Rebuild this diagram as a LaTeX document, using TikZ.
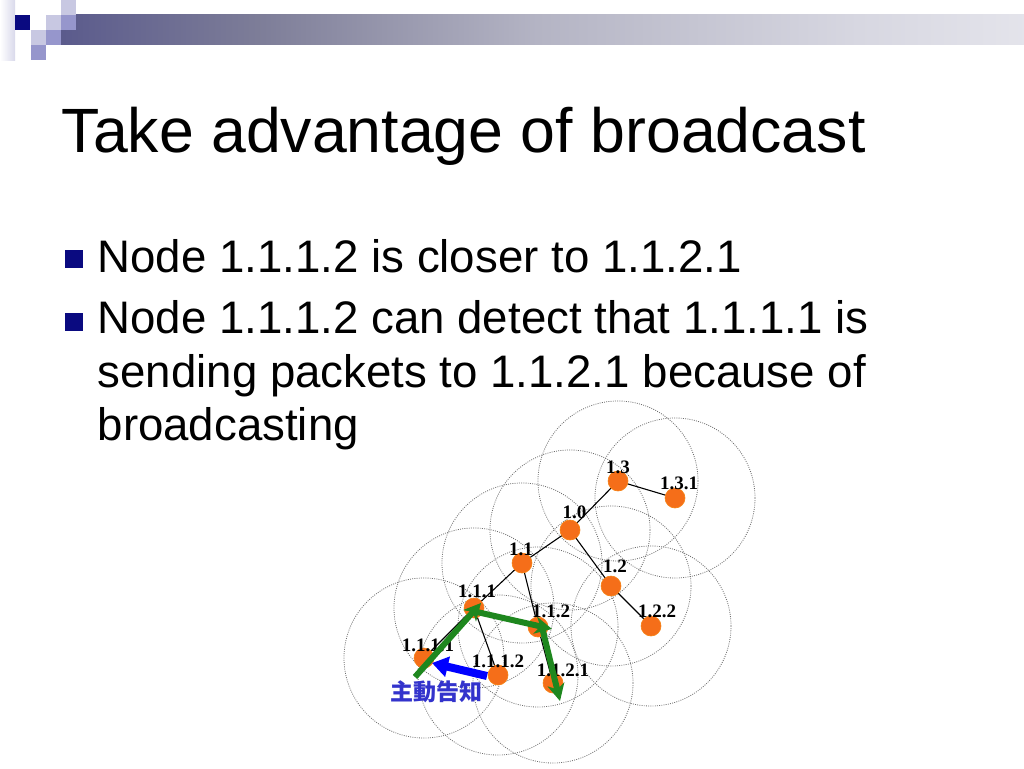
\documentclass[tikz,border=0pt]{standalone}
\usepackage{fontspec}
\setmainfont{Liberation Sans}
\newfontfamily\labfont{Liberation Serif}
\newfontfamily\cjk{Noto Sans CJK TC}
\usetikzlibrary{arrows.meta}
\definecolor{navy}{RGB}{10,10,128}
\definecolor{lavlight}{RGB}{200,200,226}
\definecolor{lavmid}{RGB}{150,150,204}
\definecolor{dotorange}{RGB}{245,110,25}
\definecolor{arrgreen}{RGB}{30,135,30}
\definecolor{arrblue}{RGB}{0,0,255}
\definecolor{txtblue}{RGB}{51,51,204}
\definecolor{rangegray}{RGB}{110,110,110}
\definecolor{bs0}{RGB}{25,25,120}
\definecolor{bs1}{RGB}{42,42,122}
\definecolor{bs2}{RGB}{90,90,140}
\definecolor{bs3}{RGB}{125,125,152}
\definecolor{bs4}{RGB}{180,180,196}
\definecolor{bs5}{RGB}{215,215,225}
\definecolor{bs6}{RGB}{238,238,243}
\definecolor{bs7}{RGB}{252,252,253}
\pgfdeclarehorizontalshading{barshade}{100bp}{%
  color(0bp)=(bs0); color(9.2bp)=(bs1);
  color(24.8bp)=(bs2); color(35.2bp)=(bs3); color(49.7bp)=(bs4);
  color(66.4bp)=(bs5); color(82bp)=(bs6); color(97.5bp)=(bs7);
  color(100bp)=(bs7)}
\tikzset{
  px/.style={x=1pt,y=-1pt},
  rangecirc/.style={draw=rangegray,line width=0.8pt,dash pattern=on 0.9pt off 1.3pt},
  netdot/.style={circle,fill=dotorange,draw=dotorange!85!yellow,line width=0.6pt,minimum size=20pt,inner sep=0pt},
  netlab/.style={font=\labfont\bfseries\fontsize{19}{19}\selectfont,inner sep=0pt,text=black},
  edge/.style={draw=black,line width=1.1pt},
  garrow/.style={draw=arrgreen,line width=6pt,-{Stealth[length=17pt,width=17pt,inset=5pt]}},
  barrow/.style={draw=arrblue,line width=8pt,-{Triangle[length=16pt,width=20pt]}},
  bodytext/.style={font=\fontsize{45.6}{45.6}\selectfont,anchor=base west,inner sep=0pt},
  bulletsq/.style={fill=navy,draw=none},
}
\begin{document}
\begin{tikzpicture}[px]
\useasboundingbox (0,0) rectangle (1024,768);
\fill[white] (0,0) rectangle (1024,768);
% header decoration
\shade[left color=white,right color=lavlight!70!white] (0,0) rectangle (15,60);
\shade[shading=barshade] (61,15) rectangle (1024,45);
\fill[navy] (15,15) rectangle (30,30);
\fill[lavlight] (61,0) rectangle (76,15);
\fill[lavlight] (46,15) rectangle (61,30);
\fill[lavmid] (61,15) rectangle (76,30);
\fill[lavlight] (31,30) rectangle (46,45);
\fill[lavmid] (46,30) rectangle (61,45);
\fill[lavmid] (31,45) rectangle (46,60);
% title
\node[anchor=base west,inner sep=0pt,font=\fontsize{62.6}{62.6}\selectfont] (title) at (61.5,152) {Take advantage of broadcast};
% bullets
\fill[bulletsq] (65,250) rectangle (83,268);
\node[bodytext] (b1) at (97.5,272) {Node 1.1.1.2 is closer to 1.1.2.1};
\fill[bulletsq] (65,313) rectangle (83,331);
\node[bodytext] (b2) at (97.5,333) {Node 1.1.1.2 can detect that 1.1.1.1 is};
\node[bodytext] (b3) at (97.5,387) {sending packets to 1.1.2.1 because of};
\node[bodytext] (b4) at (97.5,440) {broadcasting};
% node positions
\coordinate (p13) at (618,481);
\coordinate (p131) at (675,498);
\coordinate (p10) at (570,530);
\coordinate (p11) at (522,563);
\coordinate (p12) at (611,586);
\coordinate (p111) at (474,608);
\coordinate (p112) at (538,627);
\coordinate (p122) at (651,626);
\coordinate (p1111) at (424,658);
\coordinate (p1112) at (498,675);
\coordinate (p1121) at (553,683);
% range circles
\foreach \p in {p13,p131,p10,p11,p12,p111,p112,p122,p1111,p1112,p1121}
  \draw[rangecirc] (\p) circle[radius=80];
% tree edges
\draw[edge] (p13) -- (p131);
\draw[edge] (p13) -- (p10);
\draw[edge] (p10) -- (p11);
\draw[edge] (p10) -- (p12);
\draw[edge] (p12) -- (p122);
\draw[edge] (p11) -- (p111);
\draw[edge] (p11) -- (p112);
\draw[edge] (p111) -- (p1112);
\draw[edge] (p111) -- (p1111);
\draw[edge] (p112) -- (p1121);
% dots
\node[netdot] (n13) at (p13) {};
\node[netdot] (n131) at (p131) {};
\node[netdot] (n10) at (p10) {};
\node[netdot] (n11) at (p11) {};
\node[netdot] (n12) at (p12) {};
\node[netdot] (n111) at (p111) {};
\node[netdot] (n112) at (p112) {};
\node[netdot] (n122) at (p122) {};
\node[netdot] (n1111) at (p1111) {};
\node[netdot] (n1112) at (p1112) {};
\node[netdot] (n1121) at (p1121) {};
% labels
\node[netlab] (l13) at (618,467.5) {1.3};
\node[netlab] (l131) at (679,483) {1.3.1};
\node[netlab] (l10) at (574.5,512.5) {1.0};
\node[netlab] (l11) at (521,549.5) {1.1};
\node[netlab] (l12) at (615,566.5) {1.2};
\node[netlab] (l111) at (477,591.5) {1.1.1};
\node[netlab] (l112) at (551,611.5) {1.1.2};
\node[netlab] (l122) at (657,611.5) {1.2.2};
\node[netlab] (l1111) at (428,645) {1.1.1.1};
\node[netlab] (l1112) at (498,661.5) {1.1.1.2};
\node[netlab] (l1121) at (563,670) {1.1.2.1};
% green route arrows
\draw[garrow] ([shift={(-9,19)}]n1111.center) -- ([shift={(7,-5)}]n111.center);
\draw[garrow] ([shift={(3,4)}]n111.center) -- ([shift={(14,2)}]n112.center);
\draw[garrow] ([shift={(3,-4)}]n112.center) -- ([shift={(7,18)}]n1121.center);
% blue arrow
\draw[barrow] ([shift={(-11,1)}]n1112.center) -- ([shift={(8,5)}]n1111.center);
\node[font=\cjk\bfseries\fontsize{23}{23}\selectfont,text=txtblue,inner sep=0pt] (notify) at (436,692) {主動告知};
\end{tikzpicture}
\end{document}
